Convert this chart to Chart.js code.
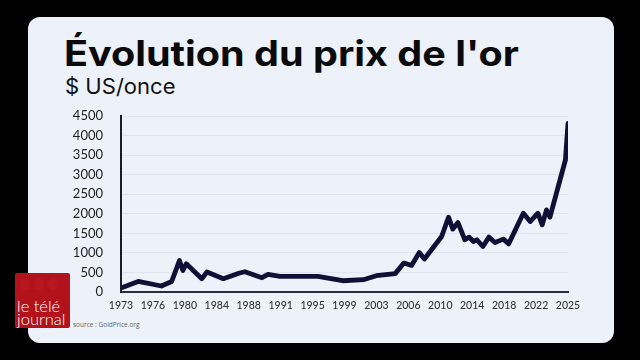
<!DOCTYPE html>
<html>
<head>
<meta charset="utf-8">
<script src="https://cdn.jsdelivr.net/npm/chart.js@4/dist/chart.umd.min.js"></script>
<style>
  html, body { margin:0; padding:0; width:640px; height:360px; background:#000; overflow:hidden; }
  #card { position:absolute; left:28px; top:17px; width:586px; height:326px; background:#edf1f9; border-radius:12px; }
  #title { position:absolute; left:64px; top:32px; font-family:Inter, "Noto Sans", sans-serif; font-weight:700; font-size:35px; line-height:42px; color:#0a0a0a; white-space:nowrap; transform:scaleX(1.13); transform-origin:0 0; }
  #subtitle { position:absolute; left:65px; top:75px; font-family:Inter, "Noto Sans", sans-serif; font-weight:400; font-size:21px; line-height:24px; color:#111; white-space:nowrap; transform:scaleX(1.05); transform-origin:0 0; }
  #logo { position:absolute; left:15px; top:273px; width:55px; height:55px; background:#b1121b; border-radius:2px; overflow:hidden; }
  #logo .dot { position:absolute; top:5px; width:10px; height:12px; border-radius:50%; background:#b7171f; }
  #logo .t { position:absolute; left:2px; color:#fff; font-family:Lato, "Open Sans", sans-serif; font-weight:300; font-size:16.5px; line-height:15px; white-space:nowrap; }
  #source { position:absolute; left:73px; top:320px; font-family:"Open Sans", sans-serif; font-size:6.5px; color:#666; white-space:nowrap; }
  #chart { position:absolute; left:0; top:0; }
</style>
</head>
<body>
<div id="card"></div>
<div id="title">Évolution du prix de l'or</div>
<div id="subtitle">$ US/once</div>
<div id="logo">
  <div class="dot" style="left:5px"></div>
  <div class="dot" style="left:19px"></div>
  <div class="dot" style="left:33px"></div>
  <div class="t" style="top:26px">le télé</div>
  <div class="t" style="top:39px">journal</div>
</div>
<div id="source">source : GoldPrice.org</div>
<canvas id="chart" width="640" height="360"></canvas>
<script>
// Data (year, USD per ounce)
const years = [1973.0, 1975.0, 1977.7, 1978.9, 1979.8, 1980.2, 1980.6, 1982.4, 1983.0, 1984.9,
  1986.8, 1987.4, 1989.4, 1990.1, 1991.5, 1995.9, 1998.8, 2001.2, 2002.7, 2004.9,
  2005.9, 2006.8, 2007.7, 2008.3, 2010.3, 2011.1, 2011.6, 2012.2, 2013.0, 2013.5,
  2014.0, 2014.4, 2015.1, 2015.8, 2016.5, 2017.5, 2018.1, 2019.8, 2020.6, 2021.5,
  2022.0, 2022.5, 2022.9, 2024.7, 2025.0];
const prices = [100, 270, 153, 270, 806, 551, 722, 340, 510, 340,
  485, 518, 365, 449, 398, 398, 288, 314, 416, 470,
  740, 680, 1010, 842, 1418, 1913, 1607, 1776, 1334, 1403,
  1291, 1334, 1163, 1403, 1265, 1352, 1230, 2015, 1801, 2015,
  1717, 2099, 1913, 3375, 4311];
const xTickLabels = ['1973','1976','1980','1984','1988','1991','1995','1999','2003','2006','2010','2014','2018','2022','2025'];
const yTickValues = [0, 500, 1000, 1500, 2000, 2500, 3000, 3500, 4000, 4500];

const xMin = 1973, xMax = 2025;

new Chart(document.getElementById('chart'), {
  type: 'line',
  data: {
    datasets: [{
      data: years.map((y, i) => ({ x: y, y: prices[i] })),
      borderColor: '#0e1036',
      borderWidth: 4.8,
      borderJoinStyle: 'round',
      borderCapStyle: 'round',
      pointRadius: 0,
      tension: 0,
      fill: false
    }]
  },
  options: {
    responsive: false,
    animation: false,
    events: [],
    layout: { padding: { left: 0, right: 72, top: 116, bottom: 48 } },
    plugins: { legend: { display: false }, tooltip: { enabled: false }, title: { display: false } },
    scales: {
      x: {
        type: 'linear',
        min: xMin, max: xMax,
        afterBuildTicks: (scale) => {
          const n = xTickLabels.length - 1;
          scale.ticks = xTickLabels.map((l, i) => ({ value: xMin + i * (xMax - xMin) / n }));
        },
        afterFit: (scale) => { scale.height = 20; },
        grid: { display: false, drawTicks: false },
        border: { display: true, color: '#2a2d3a', width: 2 },
        ticks: {
          autoSkip: false, maxRotation: 0, padding: 7,
          color: '#333', font: { family: 'Lato', size: 10.5, weight: '500' },
          callback: (v, i) => xTickLabels[i]
        }
      },
      y: {
        min: 0, max: 4500,
        afterBuildTicks: (scale) => { scale.ticks = yTickValues.map(v => ({ value: v })); },
        afterFit: (scale) => { scale.width = 121; },
        grid: { color: '#dfe4ee', lineWidth: 1, drawTicks: false },
        border: { display: true, color: '#1a1c2a', width: 2 },
        ticks: { padding: 18, color: '#222', font: { family: 'Lato', size: 13 },
          callback: (v) => String(v) }
      }
    }
  }
});
</script>
</body>
</html>
